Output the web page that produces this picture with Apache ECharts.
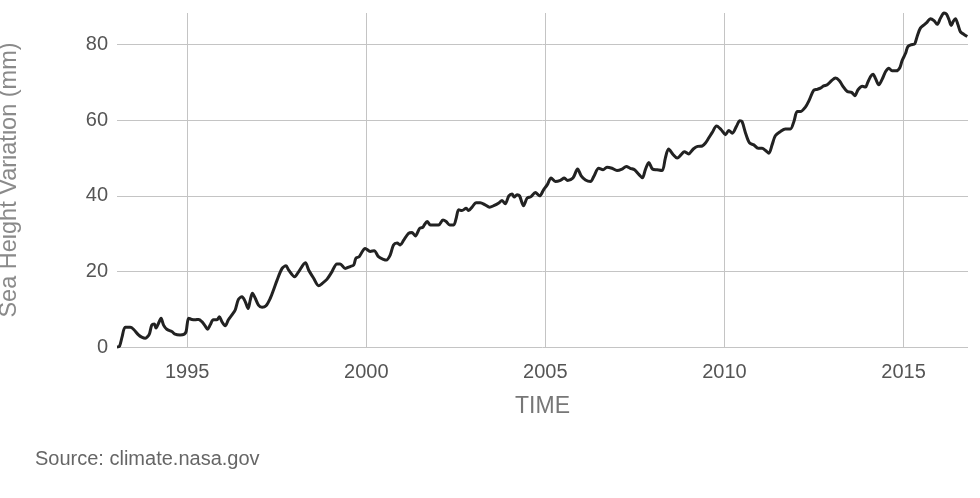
<!DOCTYPE html>
<html>
<head>
<meta charset="utf-8">
<script src="https://cdn.jsdelivr.net/npm/echarts@6/dist/echarts.min.js"></script>
<style>html,body{margin:0;padding:0;background:#fff;}#c{width:980px;height:498px;}</style>
</head>
<body>
<div id="c"></div>
<script>
const years = [1993.04,1993.11,1993.18,1993.27,1993.41,1993.50,1993.64,1993.73,1993.83,1993.89,1993.95,1994.01,1994.08,1994.13,1994.20,1994.27,1994.34,1994.43,1994.57,1994.66,1994.80,1994.92,1994.97,1995.04,1995.13,1995.22,1995.32,1995.41,1995.50,1995.57,1995.64,1995.73,1995.83,1995.90,1995.97,1996.06,1996.15,1996.25,1996.34,1996.43,1996.53,1996.62,1996.70,1996.76,1996.82,1996.90,1996.99,1997.09,1997.20,1997.32,1997.41,1997.51,1997.65,1997.76,1997.83,1998.00,1998.11,1998.30,1998.39,1998.53,1998.67,1998.78,1998.90,1999.04,1999.18,1999.27,1999.41,1999.55,1999.65,1999.71,1999.80,1999.97,2000.11,2000.22,2000.34,2000.48,2000.56,2000.67,2000.76,2000.86,2000.95,2001.04,2001.18,2001.28,2001.37,2001.49,2001.58,2001.62,2001.70,2001.79,2001.88,2002.02,2002.14,2002.23,2002.33,2002.44,2002.51,2002.58,2002.67,2002.79,2002.86,2002.95,2003.07,2003.18,2003.32,2003.44,2003.56,2003.70,2003.79,2003.88,2003.98,2004.07,2004.13,2004.21,2004.28,2004.39,2004.49,2004.60,2004.72,2004.84,2004.95,2005.05,2005.16,2005.28,2005.42,2005.53,2005.62,2005.77,2005.90,2006.00,2006.12,2006.26,2006.35,2006.49,2006.61,2006.72,2006.86,2007.00,2007.14,2007.26,2007.37,2007.49,2007.61,2007.71,2007.79,2007.89,2007.99,2008.12,2008.26,2008.35,2008.44,2008.57,2008.68,2008.79,2008.88,2009.00,2009.13,2009.25,2009.38,2009.47,2009.56,2009.66,2009.78,2009.91,2010.03,2010.12,2010.22,2010.34,2010.43,2010.49,2010.59,2010.70,2010.82,2010.94,2011.05,2011.15,2011.24,2011.33,2011.42,2011.56,2011.70,2011.84,2011.94,2012.03,2012.12,2012.26,2012.37,2012.49,2012.59,2012.68,2012.77,2012.87,2012.99,2013.10,2013.21,2013.30,2013.43,2013.55,2013.64,2013.73,2013.85,2013.94,2013.99,2014.08,2014.15,2014.22,2014.31,2014.41,2014.50,2014.59,2014.68,2014.80,2014.90,2014.96,2015.06,2015.12,2015.22,2015.31,2015.38,2015.47,2015.59,2015.66,2015.75,2015.85,2015.94,2016.03,2016.13,2016.20,2016.27,2016.33,2016.39,2016.45,2016.52,2016.59,2016.68,2016.78];
const heights = [0.0,0.2,2.6,5.2,5.2,4.7,3.2,2.6,2.3,2.7,3.6,5.8,6.1,5.0,6.3,7.6,5.8,4.7,4.1,3.4,3.2,3.4,4.1,7.6,7.3,7.2,7.3,6.7,5.6,4.7,5.8,7.2,7.2,8.0,6.7,5.6,7.2,8.5,9.8,12.6,13.3,12.0,10.2,12.4,14.2,12.9,11.1,10.5,10.9,12.9,15.1,17.7,20.8,21.5,20.4,18.6,19.9,22.3,20.4,18.2,16.2,16.9,17.9,19.9,22.0,22.0,20.8,21.3,21.7,23.5,23.9,26.1,25.3,25.5,23.9,23.2,23.0,24.4,27.0,27.5,27.0,28.2,30.1,30.3,29.4,31.4,31.7,32.3,33.2,32.3,32.3,32.3,33.6,33.2,32.3,32.3,34.1,36.3,36.1,36.7,36.1,37.0,38.2,38.2,37.6,37.0,37.4,38.1,38.8,37.9,40.0,40.5,39.7,40.3,40.0,37.4,39.4,39.8,40.9,40.0,41.6,42.9,44.7,43.8,44.1,44.7,44.1,44.7,47.1,45.3,44.2,43.8,45.1,47.3,46.9,47.6,47.3,46.7,47.1,47.8,47.3,46.9,45.7,44.8,46.9,48.8,47.1,46.9,46.7,50.0,52.4,50.9,50.0,50.9,51.7,51.1,52.4,53.1,53.2,54.0,55.3,56.8,58.5,57.5,56.2,57.3,56.6,58.5,59.9,59.7,56.6,54.0,53.5,52.6,52.6,52.0,51.3,53.5,55.9,57.0,57.7,57.7,59.7,62.3,62.3,63.5,65.4,67.9,68.2,68.5,69.1,69.4,70.5,71.2,70.5,69.1,67.6,67.4,66.5,68.1,69.0,68.8,69.8,71.6,72.2,71.0,69.4,71.0,72.9,73.8,73.1,73.1,74.0,75.8,77.8,79.5,80.0,80.2,82.2,84.4,85.4,86.0,86.9,86.4,85.4,87.0,88.4,88.1,86.6,85.1,86.2,86.9,85.3,83.4,82.8,82.2];
const yTitle = 'Sea Height Variation (mm)';
const xTitle = 'TIME';
const sourceText = 'Source: climate.nasa.gov';

const font = "'Liberation Sans', Arial, sans-serif";
const chart = echarts.init(document.getElementById('c'), null, {renderer: 'canvas'});
chart.setOption({
  animation: false,
  backgroundColor: '#fff',
  grid: {left: 117, right: 12, top: 13, bottom: 151, containLabel: false, outerBoundsMode: 'none'},
  xAxis: {
    type: 'value', min: 1993.04, max: 2016.8, splitNumber: 5,
    name: xTitle, nameLocation: 'middle', nameGap: 48,
    nameTextStyle: {color: '#777', fontSize: 23, fontFamily: font},
    axisLine: {show: false}, axisTick: {show: false},
    axisLabel: {color: '#555', fontSize: 20, fontFamily: font, margin: 15,
      showMinLabel: false, showMaxLabel: false, formatter: v => String(Math.round(v))},
    splitLine: {show: true, showMinLine: false, showMaxLine: false, lineStyle: {color: '#c4c4c4', width: 1}}
  },
  yAxis: {
    type: 'value', min: 0, max: 'dataMax', interval: 20,
    name: yTitle, nameLocation: 'middle', nameGap: 95,
    nameTextStyle: {color: '#8a8a8a', fontSize: 23.5, fontFamily: font},
    axisLine: {show: false}, axisTick: {show: false},
    axisLabel: {color: '#555', fontSize: 20, fontFamily: font, margin: 9, showMaxLabel: false},
    splitLine: {show: true, showMaxLine: false, lineStyle: {color: '#c4c4c4', width: 1}}
  },
  graphic: [{type: 'text', left: 35, top: 449, style: {text: sourceText, fill: '#666', font: '20px ' + font}}],
  series: [{
    type: 'line', data: years.map((y, i) => [y, heights[i]]),
    showSymbol: false, smooth: 0.3, clip: false,
    lineStyle: {color: '#222', width: 3}
  }]
});
</script>
</body>
</html>
